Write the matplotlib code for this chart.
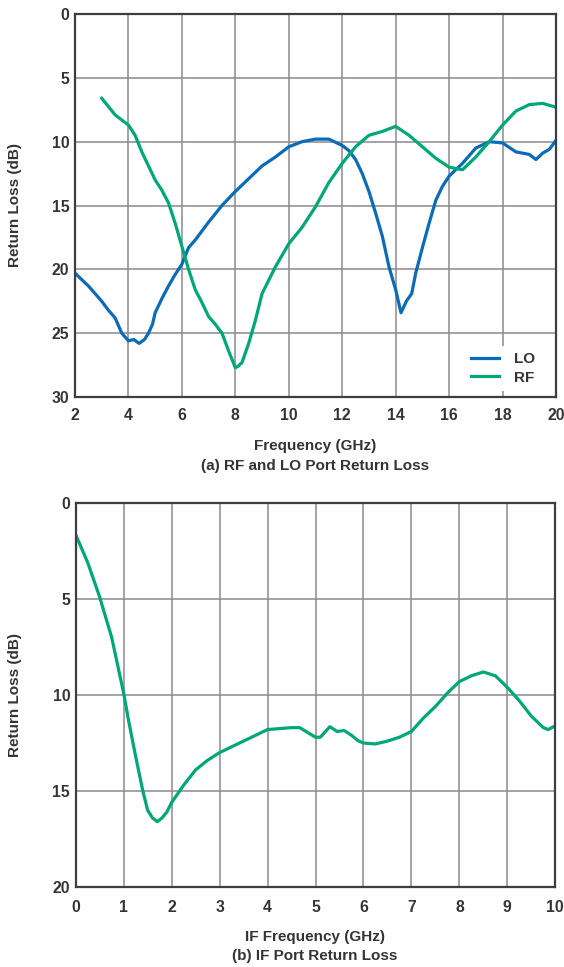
import matplotlib
matplotlib.use("Agg")
import matplotlib.pyplot as plt

# ---------------- data ----------------
lo_freq = [2.0, 2.5, 3.0, 3.25, 3.5, 3.75, 4.0, 4.2, 4.4, 4.6, 4.75, 4.9, 5.0, 5.25, 5.5, 5.75,
           6.0, 6.25, 6.5, 7.0, 7.5, 8.0, 8.5, 9.0, 9.5, 10.0, 10.5, 11.0, 11.5, 12.0, 12.25,
           12.5, 12.75, 13.0, 13.25, 13.5, 13.75, 14.0, 14.2, 14.4, 14.6, 14.75, 15.0, 15.25,
           15.5, 15.75, 16.0, 16.5, 17.0, 17.5, 18.0, 18.5, 19.0, 19.25, 19.5, 19.75, 20.0]
lo_rl = [20.3, 21.3, 22.5, 23.2, 23.8, 25.0, 25.6, 25.5, 25.8, 25.5, 25.0, 24.3, 23.4, 22.3, 21.3, 20.4,
         19.6, 18.3, 17.7, 16.3, 15.0, 13.9, 12.9, 11.9, 11.2, 10.4, 10.0, 9.8, 9.8, 10.3, 10.7,
         11.4, 12.5, 13.9, 15.6, 17.4, 19.8, 21.6, 23.4, 22.5, 21.9, 20.3, 18.3, 16.4,
         14.6, 13.5, 12.7, 11.7, 10.5, 10.0, 10.1, 10.8, 11.0, 11.4, 10.9, 10.6, 9.9]

rf_freq = [3.0, 3.5, 3.75, 4.0, 4.25, 4.5, 4.75, 5.0, 5.25, 5.5, 5.75, 6.0, 6.25, 6.5, 6.75, 7.0,
           7.25, 7.5, 7.75, 8.0, 8.1, 8.25, 8.5, 8.75, 9.0, 9.5, 10.0, 10.5, 11.0, 11.5, 12.0,
           12.5, 13.0, 13.5, 14.0, 14.5, 15.0, 15.5, 16.0, 16.5, 17.0, 17.5, 18.0, 18.5, 19.0,
           19.5, 20.0]
rf_rl = [6.6, 7.9, 8.3, 8.7, 9.5, 10.8, 11.9, 13.0, 13.8, 14.8, 16.4, 18.2, 20.0, 21.6, 22.6, 23.7,
         24.3, 25.0, 26.4, 27.7, 27.6, 27.3, 25.8, 24.0, 21.9, 19.8, 18.0, 16.7, 15.1, 13.2, 11.7,
         10.4, 9.5, 9.2, 8.8, 9.5, 10.4, 11.3, 12.0, 12.2, 11.2, 10.0, 8.7, 7.6, 7.1,
         7.0, 7.3]

if_freq = [0.0, 0.25, 0.5, 0.75, 1.0, 1.1, 1.25, 1.4, 1.5, 1.6, 1.7, 1.8, 1.9, 2.0, 2.25, 2.5,
           2.75, 3.0, 3.5, 4.0, 4.5, 4.67, 5.0, 5.1, 5.3, 5.45, 5.6, 5.75, 5.9, 6.0, 6.25, 6.5,
           6.75, 7.0, 7.25, 7.5, 7.75, 8.0, 8.25, 8.5, 8.75, 9.0, 9.25, 9.5, 9.75, 9.85, 10.0]
if_rl = [1.65, 3.1, 4.9, 7.0, 9.9, 11.3, 13.2, 15.0, 16.0, 16.4, 16.6, 16.4, 16.1, 15.6, 14.7, 13.9,
         13.4, 13.0, 12.4, 11.8, 11.7, 11.7, 12.2, 12.2, 11.65, 11.9, 11.85, 12.1, 12.4, 12.5, 12.55, 12.4,
         12.2, 11.9, 11.2, 10.6, 9.9, 9.3, 9.0, 8.8, 9.0, 9.6, 10.3, 11.1, 11.7, 11.8, 11.6]

top_xticks = [2, 4, 6, 8, 10, 12, 14, 16, 18, 20]
top_yticks = [0, 5, 10, 15, 20, 25, 30]
bot_xticks = [0, 1, 2, 3, 4, 5, 6, 7, 8, 9, 10]
bot_yticks = [0, 5, 10, 15, 20]

# ---------------- style ----------------
W, H = 564, 967
BLUE = "#0a6cb8"
GREEN = "#00a878"
GRID = "#8a8a90"
SPINE = "#3d3d42"
TXT = "#333338"
FONT = "Liberation Sans"

fig = plt.figure(figsize=(W / 100, H / 100), dpi=100)


def ax_at(l, t, r, b):
    return fig.add_axes([l / W, 1 - b / H, (r - l) / W, (b - t) / H])


def style(ax, xt, yt, xlim, ylim, xpad):
    ax.set_xlim(*xlim)
    ax.set_ylim(*ylim)
    ax.set_xticks(xt)
    ax.set_yticks(yt)
    ax.grid(True, color=GRID, linewidth=1.1)
    ax.set_axisbelow(True)
    ax.tick_params(length=0, labelsize=11.3, colors=TXT)
    ax.tick_params(axis="x", pad=xpad)
    ax.tick_params(axis="y", pad=4)
    for lab in ax.get_xticklabels() + ax.get_yticklabels():
        lab.set_fontweight("bold")
        lab.set_fontfamily(FONT)
    for s in ax.spines.values():
        s.set_color(SPINE)
        s.set_linewidth(1.6)


def ftext(x, y, s, **kw):
    fig.text(x / W, 1 - y / H, s, ha="center", va="center", fontsize=11,
             fontweight="bold", color=TXT, family=FONT, **kw)


# top panel
ax1 = ax_at(75, 14, 556, 397)
ax1.plot(lo_freq, lo_rl, color=BLUE, lw=2.3, label="LO", solid_joinstyle="round")
ax1.plot(rf_freq, rf_rl, color=GREEN, lw=2.3, label="RF", solid_joinstyle="round")
style(ax1, top_xticks, top_yticks, (2, 20), (30, 0), 8)
leg = ax1.legend(loc="lower right", bbox_to_anchor=(0.969, 0.016), frameon=True,
                 fancybox=False, edgecolor="none", facecolor="white", framealpha=1,
                 handlelength=1.8, handletextpad=1.0, borderaxespad=0.0, borderpad=0.4,
                 labelspacing=0.3,
                 prop={"family": FONT, "weight": "bold", "size": 11})
for t in leg.get_texts():
    t.set_color(TXT)

ftext(15, 205, "Return Loss (dB)", rotation=90)
ftext(315.5, 446, "Frequency (GHz)")
ftext(315.5, 466, "(a) RF and LO Port Return Loss")

# bottom panel
ax2 = ax_at(75.7, 503, 555.3, 887)
ax2.plot(if_freq, if_rl, color=GREEN, lw=2.3, solid_joinstyle="round")
style(ax2, bot_xticks, bot_yticks, (0, 10), (20, 0), 9)

ftext(15, 695, "Return Loss (dB)", rotation=90)
ftext(315, 937, "IF Frequency (GHz)")
ftext(315, 956, "(b) IF Port Return Loss")

fig.savefig("out.png", dpi=100, facecolor="white")
